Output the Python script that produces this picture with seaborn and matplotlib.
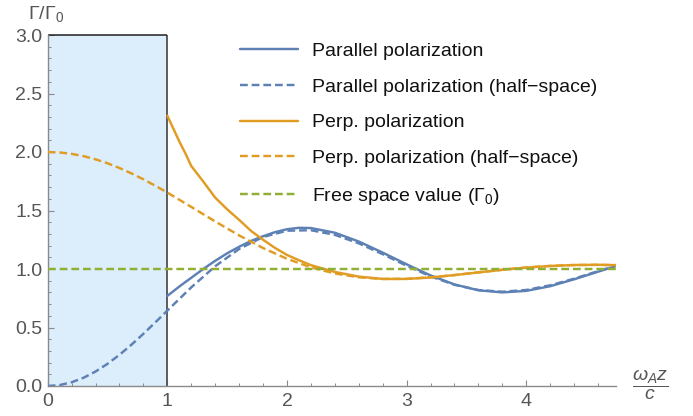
import matplotlib
matplotlib.use("Agg")
import matplotlib.pyplot as plt
import seaborn as sns
import pandas as pd
from matplotlib.lines import Line2D
from matplotlib.ticker import MultipleLocator

# ---------------- data ----------------
x_half = [0.0, 0.1, 0.2, 0.3, 0.4, 0.5, 0.6, 0.7, 0.8, 0.9, 1.0, 1.2, 1.4,
          1.6, 1.8, 2.0, 2.2, 2.4, 2.6, 2.8, 3.0, 3.2, 3.4, 3.6, 3.8, 4.0,
          4.2, 4.4, 4.6, 4.75]
par_half = [0.0, 0.0080, 0.0317, 0.0706, 0.1237, 0.1896, 0.2666, 0.3528,
            0.4461, 0.5441, 0.6446, 0.8432, 1.0237, 1.1709, 1.2739, 1.3273,
            1.3315, 1.2921, 1.2194, 1.1266, 1.0279, 0.9370, 0.8652, 0.8202,
            0.8057, 0.8208, 0.8606, 0.9173, 0.9814, 1.0283]
perp_half = [2.0, 1.9960, 1.9841, 1.9645, 1.9374, 1.9035, 1.8632, 1.8172,
             1.7663, 1.7113, 1.6531, 1.5306, 1.4063, 1.2871, 1.1791, 1.0871,
             1.0141, 0.9616, 0.9292, 0.9150, 0.9161, 0.9286, 0.9483, 0.9712,
             0.9936, 1.0126, 1.0264, 1.0340, 1.0354, 1.0329]

x_full = [1.0, 1.05, 1.1, 1.15, 1.2, 1.3, 1.4, 1.5, 1.6, 1.7, 1.8, 1.9, 2.0,
          2.1, 2.2, 2.4, 2.6, 2.8, 3.0, 3.2, 3.4, 3.6, 3.8, 4.0, 4.2, 4.4,
          4.6, 4.75]
par_full = [0.77, 0.81, 0.85, 0.888, 0.925, 1.0, 1.07, 1.134, 1.19, 1.24,
            1.28, 1.315, 1.34, 1.352, 1.35, 1.31, 1.235, 1.14, 1.04, 0.945,
            0.868, 0.818, 0.800, 0.813, 0.853, 0.912, 0.977, 1.025]
perp_full = [2.31, 2.2, 2.09, 1.99, 1.88, 1.748, 1.61, 1.51, 1.42, 1.325,
             1.25, 1.18, 1.12, 1.075, 1.033, 0.975, 0.935, 0.915, 0.915,
             0.928, 0.948, 0.971, 0.993, 1.012, 1.026, 1.034, 1.036, 1.033]

free_x = [0.0, 4.75]
free_y = [1.0, 1.0]

region_x = [0.0, 1.0]   # shaded slab
region_top = 3.0

labels = ["Parallel polarization",
          "Parallel polarization (half\u2212space)",
          "Perp. polarization",
          "Perp. polarization (half\u2212space)",
          "Free space value (\u0393$_0$)"]
x_ticks = [0, 1, 2, 3, 4]
y_ticks = [0.0, 0.5, 1.0, 1.5, 2.0, 2.5, 3.0]

# ---------------- style ----------------
sns.set_style("white")
plt.rcParams['font.family'] = ['Liberation Sans', 'DejaVu Sans']
plt.rcParams['mathtext.fontset'] = 'custom'
plt.rcParams['mathtext.rm'] = 'Liberation Sans'
plt.rcParams['mathtext.it'] = 'Liberation Sans:italic'

BLUE = '#5E81B5'
ORANGE = '#E19C24'
GREEN = '#8FB032'
GRAY = '#555555'
FS = 14

fig = plt.figure(figsize=(6.93, 4.16), dpi=100)
ax = fig.add_axes([47.7 / 693, 30 / 416, (616 - 47.7) / 693, (386 - 35) / 416])

# shaded region
ax.axvspan(region_x[0], region_x[1], color='#DCEDFC', zorder=0, lw=0)
ax.vlines(region_x[1], 0, region_top, color='#505050', lw=1.3, zorder=1)
ax.hlines(region_top, region_x[0], region_x[1], color='#202020', lw=1.1,
          zorder=1, clip_on=False)

lw = 1.75
dash = (3.2, 1.6)
df_half = pd.DataFrame({'x': x_half, 'par': par_half, 'perp': perp_half})
df_full = pd.DataFrame({'x': x_full, 'par': par_full, 'perp': perp_full})

sns.lineplot(data=df_full, x='x', y='par', ax=ax, color=BLUE, lw=lw, zorder=3)
sns.lineplot(data=df_half, x='x', y='par', ax=ax, color=BLUE, lw=lw, zorder=3)
ax.lines[-1].set_dashes(dash)
sns.lineplot(data=df_full, x='x', y='perp', ax=ax, color=ORANGE, lw=lw, zorder=3)
sns.lineplot(data=df_half, x='x', y='perp', ax=ax, color=ORANGE, lw=lw, zorder=3)
ax.lines[-1].set_dashes(dash)
sns.lineplot(x=free_x, y=free_y, ax=ax, color=GREEN, lw=lw, zorder=3)
ax.lines[-1].set_dashes(dash)

ax.set_xlim(0, 4.75)
ax.set_ylim(0, 3.0)
ax.set_xlabel('')
ax.set_ylabel('')

for s in ['top', 'right']:
    ax.spines[s].set_visible(False)
for s in ['left', 'bottom']:
    ax.spines[s].set_color('#8A8A8A')
    ax.spines[s].set_linewidth(1.0)

ax.set_xticks(x_ticks)
ax.set_xticklabels([str(t) for t in x_ticks])
ax.set_yticks(y_ticks)
ax.set_yticklabels([f"{t:.1f}" for t in y_ticks])
ax.xaxis.set_minor_locator(MultipleLocator(0.2))
ax.yaxis.set_minor_locator(MultipleLocator(0.1))
ax.tick_params(which='major', direction='in', length=4, width=0.8,
               color='#8A8A8A', labelsize=FS, labelcolor=GRAY, pad=5)
ax.tick_params(which='minor', direction='in', length=2.3, width=0.7,
               color='#8A8A8A')
ax.tick_params(axis='y', which='major', pad=4)
ax.tick_params(bottom=True, left=True, which='both')

# legend
handles = [Line2D([], [], color=BLUE, lw=lw),
           Line2D([], [], color=BLUE, lw=lw, dashes=dash),
           Line2D([], [], color=ORANGE, lw=lw),
           Line2D([], [], color=ORANGE, lw=lw, dashes=dash),
           Line2D([], [], color=GREEN, lw=lw, dashes=dash)]
leg = ax.legend(handles, labels, loc='upper left',
                bbox_to_anchor=(240 / 693, 1 - 42 / 416),
                bbox_transform=fig.transFigure, frameon=False, fontsize=FS,
                borderpad=0, borderaxespad=0, handlelength=3.0,
                handletextpad=0.7, labelspacing=0.94)
for t in leg.get_texts():
    t.set_color('#111111')

# axis labels
fig.text(46 / 693, 1 - 14 / 416, "\u0393/\u0393$_0$", ha='center', va='center',
         fontsize=FS, color=GRAY)
fig.text(650 / 693, 1 - 385 / 416, r"$\dfrac{\omega_A z}{c}$", ha='center',
         va='center', fontsize=FS, color=GRAY)

fig.savefig('out.png', dpi=100)
